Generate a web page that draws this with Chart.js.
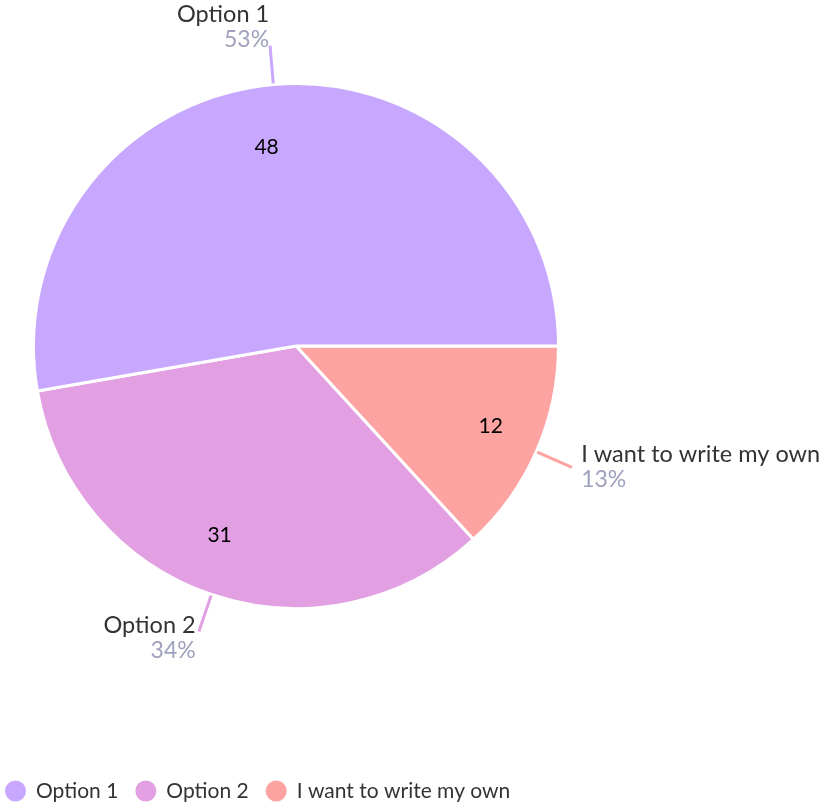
<!DOCTYPE html>
<html>
<head>
<meta charset="utf-8">
<title>Poll results</title>
<script src="https://cdn.jsdelivr.net/npm/chart.js@4"></script>
<style>
  html, body { margin: 0; padding: 0; background: #fff; }
  canvas { display: block; }
</style>
</head>
<body>
<canvas id="poll-chart" width="830" height="804"></canvas>
<script>
const labels = ["Option 1", "Option 2", "I want to write my own"];
const votes = [48, 31, 12];
const percents = ["53%", "34%", "13%"];
const colors = ["#c8a8fe", "#e2a0e2", "#fda3a2"];

const fontFamily = "Lato, 'Noto Sans', sans-serif";
const textColor = "#333333";
const percentColor = "#a0a1bd";

// the reference goes counter-clockwise from 3 o'clock, chart.js goes clockwise,
// so the slices are fed in reverse
const order = labels.map((_, i) => labels.length - 1 - i);

// value inside each slice + label with leader line outside
const sliceLabels = {
  id: "sliceLabels",
  afterDatasetsDraw(chart) {
    const ctx = chart.ctx;
    const meta = chart.getDatasetMeta(0);
    ctx.save();
    meta.data.forEach((arc, j) => {
      const i = order[j];
      const mid = (arc.startAngle + arc.endAngle) / 2;
      const cos = Math.cos(mid);
      const sin = Math.sin(mid);
      const r = arc.outerRadius;
      const right = cos >= 0;

      // value
      ctx.fillStyle = "#000";
      ctx.font = "21px " + fontFamily;
      ctx.textAlign = right ? "left" : "right";
      ctx.textBaseline = "middle";
      ctx.fillText(String(votes[i]), arc.x + cos * r * 0.76, arc.y + sin * r * 0.76);

      // leader line
      const x1 = arc.x + cos * (r + 1);
      const y1 = arc.y + sin * (r + 1);
      const x2 = arc.x + cos * (r + 39);
      const y2 = arc.y + sin * (r + 39);
      ctx.strokeStyle = colors[i];
      ctx.lineWidth = 3;
      ctx.beginPath();
      ctx.moveTo(x1, y1);
      ctx.lineTo(x2, y2);
      ctx.stroke();

      // name + percent
      const tx = x2 + (right ? 1 : -1) * 10 * Math.abs(cos);
      const lineGap = 25;
      const cy = y2 + Math.min(0, sin) * 19 + Math.max(0, sin - 0.5) * 15;
      ctx.textAlign = right ? "left" : "right";
      ctx.fillStyle = textColor;
      ctx.font = "23.5px " + fontFamily;
      ctx.fillText(labels[i], tx, cy - lineGap / 2);
      ctx.fillStyle = percentColor;
      ctx.font = "23px " + fontFamily;
      ctx.fillText(percents[i], tx, cy + lineGap / 2);
    });
    ctx.restore();
  }
};

// legend along the bottom edge, left aligned
const bottomLegend = {
  id: "bottomLegend",
  afterDraw(chart) {
    const ctx = chart.ctx;
    const y = chart.height - 13;
    let x = 5;
    ctx.save();
    ctx.font = "21px " + fontFamily;
    ctx.textAlign = "left";
    ctx.textBaseline = "middle";
    labels.forEach((label, i) => {
      ctx.fillStyle = colors[i];
      ctx.beginPath();
      ctx.arc(x + 10.5, y, 10.5, 0, Math.PI * 2);
      ctx.fill();
      ctx.fillStyle = textColor;
      ctx.fillText(label, x + 31, y);
      x += 31 + ctx.measureText(label).width + 17;
    });
    ctx.restore();
  }
};

new Chart(document.getElementById("poll-chart").getContext("2d"), {
  type: "pie",
  data: {
    labels: order.map(i => labels[i]),
    datasets: [{
      data: order.map(i => votes[i]),
      backgroundColor: order.map(i => colors[i]),
      borderColor: "#ffffff",
      borderWidth: 3
    }]
  },
  options: {
    responsive: false,
    animation: false,
    rotation: 90,
    layout: {
      padding: { left: 32, right: 270, top: 82, bottom: 194 }
    },
    plugins: {
      legend: { display: false },
      tooltip: { enabled: false }
    }
  },
  plugins: [sliceLabels, bottomLegend]
});
</script>
</body>
</html>
